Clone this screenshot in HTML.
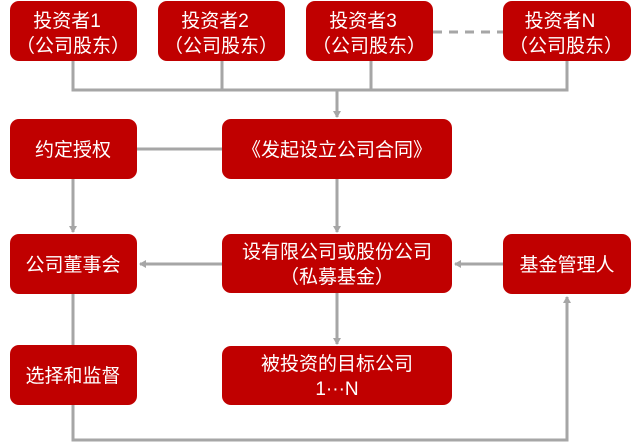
<!DOCTYPE html>
<html><head><meta charset="utf-8"><style>
html,body{margin:0;padding:0;background:#fff;}
svg{display:block;}
text{font-family:"Liberation Sans","Noto Sans CJK SC",sans-serif;font-size:19px;fill:#fff;text-anchor:middle;}
</style></head><body>
<svg width="640" height="443" viewBox="0 0 640 443">
<defs>
<marker id="a" markerWidth="8" markerHeight="8" refX="6" refY="4" orient="auto" markerUnits="userSpaceOnUse">
<path d="M0,0 L7,4 L0,8 Z" fill="#a6a6a6"/></marker>
</defs>
<g stroke="#a6a6a6" stroke-width="3" fill="none">
<polyline points="73,61 73,90 567,90 567,61"/>
<line x1="222" y1="61" x2="222" y2="90"/>
<line x1="371" y1="61" x2="371" y2="90"/>
<line x1="337" y1="90" x2="337" y2="117" marker-end="url(#a)"/>
<line x1="433" y1="32" x2="503" y2="32" stroke-dasharray="9,7"/>
<line x1="137" y1="149" x2="222" y2="149"/>
<line x1="73" y1="179" x2="73" y2="232" marker-end="url(#a)"/>
<line x1="337" y1="179" x2="337" y2="232" marker-end="url(#a)"/>
<line x1="222" y1="264" x2="140" y2="264" marker-end="url(#a)"/>
<line x1="503" y1="264" x2="455" y2="264" marker-end="url(#a)"/>
<line x1="73" y1="294" x2="73" y2="346"/>
<line x1="337" y1="293" x2="337" y2="344" marker-end="url(#a)"/>
<polyline points="73,405 73,440 567,440 567,297" marker-end="url(#a)"/>
</g>
<g fill="#c00000">
<rect x="10" y="1" width="127" height="60" rx="9"/>
<rect x="158" y="1" width="127" height="60" rx="9"/>
<rect x="306" y="1" width="127" height="60" rx="9"/>
<rect x="503" y="1" width="128" height="60" rx="9"/>
<rect x="10" y="119" width="127" height="60" rx="9"/>
<rect x="222" y="119" width="230" height="60" rx="9"/>
<rect x="10" y="234" width="127" height="60" rx="9"/>
<rect x="222" y="234" width="230" height="59" rx="9"/>
<rect x="503" y="234" width="128" height="60" rx="9"/>
<rect x="10" y="345" width="127" height="60" rx="9"/>
<rect x="222" y="346" width="230" height="59" rx="9"/>
</g>
<text x="67" y="27">投资者1</text><text x="73" y="52">（公司股东）</text>
<text x="215" y="27">投资者2</text><text x="221" y="52">（公司股东）</text>
<text x="363" y="27">投资者3</text><text x="369" y="52">（公司股东）</text>
<text x="560" y="27">投资者N</text><text x="566" y="52">（公司股东）</text>
<text x="73" y="156">约定授权</text>
<text x="337" y="156">《发起设立公司合同》</text>
<text x="73" y="271">公司董事会</text>
<text x="337" y="258">设有限公司或股份公司</text>
<text x="337" y="283">（私募基金）</text>
<text x="567" y="271">基金管理人</text>
<text x="73" y="382">选择和监督</text>
<text x="337" y="370">被投资的目标公司</text>
<text x="337" y="395">1···N</text>
</svg>
</body></html>
